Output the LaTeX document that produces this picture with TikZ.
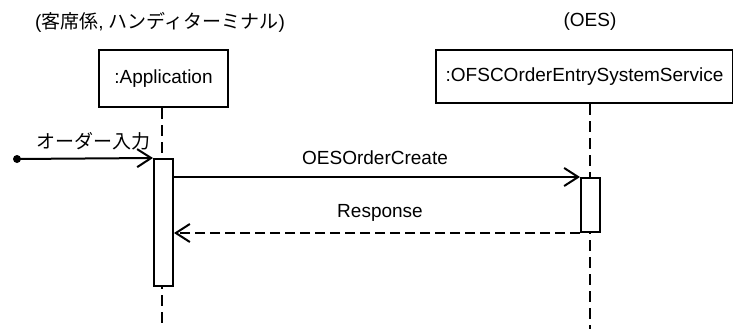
\documentclass[tikz,border=0pt]{standalone}
\usepackage{fontspec}
\setmainfont{Liberation Sans}
\newfontfamily\jpfont{Noto Sans CJK JP}
\usetikzlibrary{arrows.meta}
\begin{document}
\begin{tikzpicture}[x=1pt,y=-1pt,
  every node/.style={font=\fontsize{19}{22}\selectfont},
  objbox/.style={draw,line width=2pt,inner sep=0pt,anchor=north west},
  actbox/.style={draw,line width=2pt,fill=white,inner sep=0pt,anchor=north west},
  lifeline/.style={line width=2pt,dash pattern=on 11pt off 6pt},
  msg/.style={line width=2pt,-{Straight Barb[length=14pt,width=18pt,line width=2pt]}},
  reply/.style={msg,dash pattern=on 10pt off 5pt},
  lbl/.style={inner sep=0pt}]
\useasboundingbox (0,0) rectangle (733,329);
% titles
\node[lbl] (t1) at (160,22) {(\jpfont 客席係\rmfamily, \jpfont ハンディターミナル\rmfamily)};
\node[lbl] (t2) at (590,22) {(OES)};
% objects
\node[objbox,minimum width=129pt,minimum height=57pt] (app) at (98,49) {};
\node[lbl] at (app.center) {:Application};
\node[objbox,minimum width=297pt,minimum height=53pt] (oes) at (435,49) {};
\node[lbl] at (oes.center) {:OFSCOrderEntrySystemService};
% lifeline ends
\coordinate (append) at (162,329);
\coordinate (oesend) at (590,329);
\draw[lifeline] (app.south -| 162,0) -- (append);
\draw[lifeline] (oes.south -| 590,0) -- (oesend);
% activations
\node[actbox,minimum width=19pt,minimum height=127pt] (appact) at (153,158) {};
\node[actbox,minimum width=19pt,minimum height=54pt] (oesact) at (580,177) {};
% found message
\coordinate (start) at (17,159);
\fill (start) circle (4pt);
\draw[msg] (start) -- (appact.north west);
\node[lbl] at (93,141) {\jpfont オーダー入力};
% call and reply
\draw[msg] (appact.north east |- oesact.north) -- (oesact.north west);
\node[lbl] at (375,158) {OESOrderCreate};
\draw[reply] (oesact.south west) -- (appact.east |- oesact.south west);
\node[lbl] at (380,213) {Response};
\end{tikzpicture}
\end{document}
